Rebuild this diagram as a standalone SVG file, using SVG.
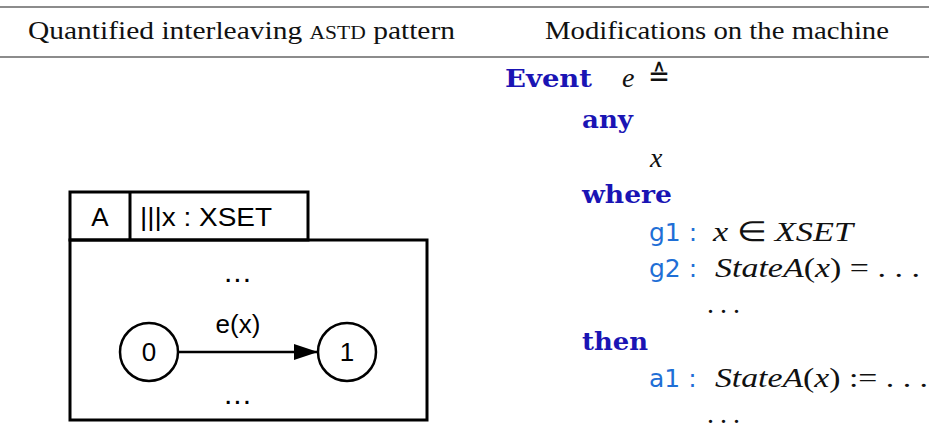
<svg xmlns="http://www.w3.org/2000/svg" width="929" height="430" viewBox="0 0 929 430">
  <style>
    .rule { stroke: #666; stroke-width: 1.6; }
    .head { font-family: "Liberation Serif", serif; font-size: 26px; fill: #111; }
    .box { fill: none; stroke: #000; stroke-width: 3; }
    .state { fill: #fff; stroke: #000; stroke-width: 2.5; }
    .sans { font-family: "Liberation Sans", Arial, sans-serif; font-size: 26px; fill: #000; }
    .dots { font-family: "Liberation Sans", Arial, sans-serif; font-size: 30px; fill: #000; }
    .kw { font-family: "DejaVu Serif", "Liberation Serif", serif; font-weight: bold; font-size: 25px; fill: #1a14b4; }
    .lbl { font-family: "DejaVu Sans", "Liberation Sans", sans-serif; font-size: 25px; fill: #1f6fd6; }
    .math { font-family: "Liberation Serif", serif; font-size: 28px; fill: #111; }
    .it { font-style: italic; }
  </style>
  <defs>
    <marker id="arrow" viewBox="0 0 24 16" refX="24" refY="8" markerUnits="userSpaceOnUse" markerWidth="24" markerHeight="16" orient="auto">
      <polygon points="0,0 24,8 0,16" fill="#000"/>
    </marker>
  </defs>

  <!-- table header -->
  <g id="header">
    <line class="rule" x1="0" y1="7" x2="929" y2="7"/>
    <line class="rule" x1="0" y1="57" x2="929" y2="57"/>
    <text class="head" x="28" y="39" textLength="427" lengthAdjust="spacingAndGlyphs">Quantified interleaving <tspan font-size="19">ASTD</tspan> pattern</text>
    <text class="head" x="545" y="39" textLength="344" lengthAdjust="spacingAndGlyphs">Modifications on the machine</text>
  </g>

  <!-- ASTD: quantified interleaving over x : XSET -->
  <g id="astd-A">
    <rect class="box" x="70" y="240" width="357" height="180"/>
    <rect class="box" x="70" y="192" width="238" height="48"/>
    <line class="box" x1="130" y1="192" x2="130" y2="240"/>
    <text class="sans" x="100" y="226" text-anchor="middle">A</text>
    <text class="sans" x="140" y="226" textLength="132" lengthAdjust="spacingAndGlyphs">|||x : XSET</text>
    <text class="dots" x="224" y="282" textLength="27" lengthAdjust="spacing">...</text>
    <text class="dots" x="224" y="404" textLength="27" lengthAdjust="spacing">...</text>
  </g>

  <g id="state-0">
    <circle class="state" cx="149" cy="352" r="29"/>
    <text class="sans" x="149" y="361" text-anchor="middle">0</text>
  </g>
  <g id="state-1">
    <circle class="state" cx="347" cy="352" r="29"/>
    <text class="sans" x="347" y="361" text-anchor="middle">1</text>
  </g>

  <g id="connectors">
    <line x1="178" y1="352" x2="318" y2="352" stroke="#000" stroke-width="2.5" marker-end="url(#arrow)"/>
    <text class="sans" x="238" y="333" text-anchor="middle">e(x)</text>
  </g>

  <!-- Event-B event refinement -->
  <g id="event">
    <text class="kw" x="505" y="87" textLength="87" lengthAdjust="spacingAndGlyphs">Event</text>
    <text class="math it" x="622" y="87">e</text>
    <text x="648" y="86" font-family="DejaVu Sans, sans-serif" font-size="30" fill="#111" textLength="22" lengthAdjust="spacingAndGlyphs">≙</text>

    <text class="kw" x="582" y="128" textLength="51" lengthAdjust="spacingAndGlyphs">any</text>
    <text class="math it" x="650" y="167">x</text>

    <text class="kw" x="582" y="203" textLength="90" lengthAdjust="spacingAndGlyphs">where</text>
    <text class="lbl" x="649" y="241">g1 :</text>
    <text class="math" x="713" y="241" textLength="140" lengthAdjust="spacingAndGlyphs"><tspan class="it">x</tspan> ∈ <tspan class="it">XSET</tspan></text>
    <text class="lbl" x="649" y="277">g2 :</text>
    <text class="math" x="715" y="277" textLength="205" lengthAdjust="spacingAndGlyphs"><tspan class="it">StateA</tspan>(<tspan class="it">x</tspan>) = . . .</text>
    <text class="math" x="707" y="313" textLength="33" lengthAdjust="spacing">. . .</text>

    <text class="kw" x="582" y="350" textLength="66" lengthAdjust="spacingAndGlyphs">then</text>
    <text class="lbl" x="649" y="387">a1 :</text>
    <text class="math" x="715" y="387" textLength="213" lengthAdjust="spacingAndGlyphs"><tspan class="it">StateA</tspan>(<tspan class="it">x</tspan>) := . . .</text>
    <text class="math" x="707" y="423" textLength="33" lengthAdjust="spacing">. . .</text>
  </g>
</svg>
